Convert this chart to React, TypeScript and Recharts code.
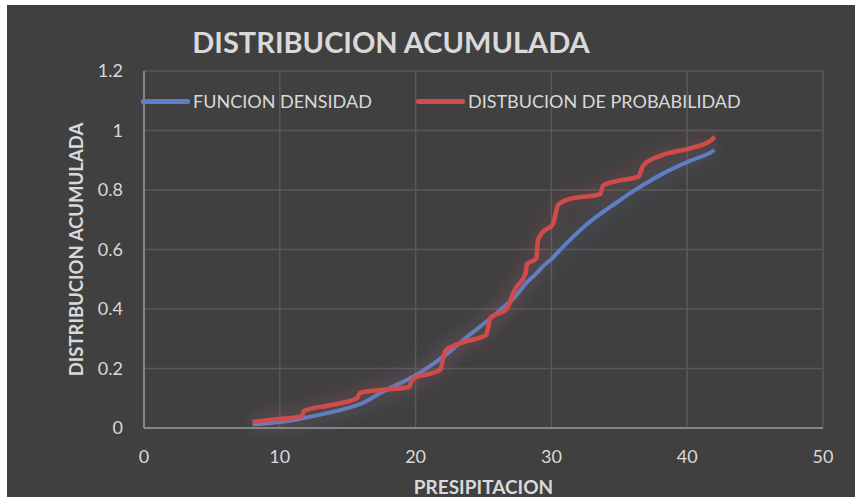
import React from "react";
import {
  LineChart,
  Line,
  XAxis,
  YAxis,
  CartesianGrid,
} from "recharts";

// precipitation values (x) and the two cumulative curves
const precipitacion = [
  8.0, 10.0, 11.6, 11.8, 13.5, 15.7, 15.9, 17.5, 19.5, 19.8, 21.8, 22.2, 23.5,
  25.2, 25.5, 26.7, 27.3, 28.1, 28.2, 28.9, 29.0, 29.3, 30.1, 30.5, 31.2, 33.6,
  33.8, 34.8, 36.4, 36.8, 38.2, 40.2, 41.8, 42.0,
];
const funcionDensidad = [
  0.012, 0.02, 0.032, 0.034, 0.05, 0.077, 0.08, 0.12, 0.165, 0.172, 0.232,
  0.245, 0.295, 0.357, 0.368, 0.415, 0.44, 0.485, 0.49, 0.52, 0.525, 0.54,
  0.572, 0.592, 0.625, 0.72, 0.726, 0.758, 0.807, 0.818, 0.855, 0.898, 0.928,
  0.934,
];
const distProbabilidad = [
  0.02, 0.03, 0.04, 0.058, 0.075, 0.1, 0.118, 0.128, 0.138, 0.165, 0.195,
  0.26, 0.288, 0.313, 0.37, 0.4, 0.465, 0.52, 0.55, 0.57, 0.63, 0.655, 0.685,
  0.75, 0.768, 0.786, 0.815, 0.83, 0.845, 0.885, 0.918, 0.94, 0.968, 0.98,
];
const xTicks = [0, 10, 20, 30, 40, 50];
const yTicks = [0, 0.2, 0.4, 0.6, 0.8, 1, 1.2];

const data = precipitacion.map((x, i) => ({
  x,
  densidad: funcionDensidad[i],
  probabilidad: distProbabilidad[i],
}));

const FONT = "Lato, 'Open Sans', sans-serif";
const TEXT = "#d9d9d9";
const BLUE = "#5b80c6";
const RED = "#d24c4c";

export default function App() {
  return (
    <div
      style={{
        position: "absolute",
        left: 0,
        top: 0,
        width: 855,
        height: 497,
        background: "#ffffff",
        fontFamily: FONT,
      }}
    >
      <div
        style={{
          position: "absolute",
          left: 7,
          top: 5,
          width: 848,
          height: 492,
          background: "#404040",
        }}
      >
        <LineChart
          width={848}
          height={492}
          data={data}
          margin={{ top: 66, right: 32, bottom: 0, left: 0 }}
        >
          <defs>
            <filter
              id="glow"
              filterUnits="userSpaceOnUse"
              x="0"
              y="0"
              width="848"
              height="492"
            >
              <feGaussianBlur in="SourceGraphic" stdDeviation="10" result="blur" />
              <feComponentTransfer in="blur" result="faint">
                <feFuncA type="linear" slope="0.55" />
              </feComponentTransfer>
              <feMerge>
                <feMergeNode in="faint" />
                <feMergeNode in="SourceGraphic" />
              </feMerge>
            </filter>
          </defs>
          <CartesianGrid stroke="#595959" strokeWidth={1.5} />
          <XAxis
            dataKey="x"
            type="number"
            domain={[0, 50]}
            ticks={xTicks}
            height={69}
            tickSize={0}
            tickMargin={22}
            tickLine={false}
            axisLine={{ stroke: "#858585", strokeWidth: 2 }}
            tick={{ fill: TEXT, fontSize: 18, fontFamily: FONT }}
            label={{
              value: "PRESIPITACION",
              position: "insideBottom",
              offset: 3,
              fill: TEXT,
              fontSize: 19,
              fontWeight: 700,
              fontFamily: FONT,
            }}
          />
          <YAxis
            type="number"
            domain={[0, 1.2]}
            ticks={yTicks}
            width={137}
            tickSize={0}
            tickMargin={21}
            tickLine={false}
            axisLine={{ stroke: "#858585", strokeWidth: 2 }}
            tick={{ fill: TEXT, fontSize: 18, fontFamily: FONT }}
            label={{
              value: "DISTRIBUCION ACUMULADA",
              angle: -90,
              position: "center",
              dx: 1,
              fill: TEXT,
              fontSize: 18.5,
              fontWeight: 700,
              fontFamily: FONT,
            }}
          />
          <Line
            type="monotone"
            dataKey="densidad"
            stroke={BLUE}
            strokeWidth={4}
            dot={false}
            filter="url(#glow)"
            isAnimationActive={false}
          />
          <Line
            type="monotone"
            dataKey="probabilidad"
            stroke={RED}
            strokeWidth={4.5}
            dot={false}
            filter="url(#glow)"
            isAnimationActive={false}
          />
        </LineChart>
      </div>

      <div
        style={{
          position: "absolute",
          left: 0,
          width: 782,
          top: 24,
          textAlign: "center",
          color: TEXT,
          fontSize: 29,
          fontWeight: 700,
        }}
      >
        DISTRIBUCION ACUMULADA
      </div>

      {[
        { name: "FUNCION DENSIDAD", color: BLUE, left: 141 },
        { name: "DISTBUCION DE PROBABILIDAD", color: RED, left: 416 },
      ].map((item) => (
        <div
          key={item.name}
          style={{
            position: "absolute",
            left: item.left,
            top: 90,
            display: "flex",
            alignItems: "center",
            color: TEXT,
            fontSize: 18,
            whiteSpace: "nowrap",
          }}
        >
          <span
            style={{
              display: "inline-block",
              width: 49,
              height: 5,
              borderRadius: 2,
              background: item.color,
              marginRight: 3,
            }}
          />
          {item.name}
        </div>
      ))}
    </div>
  );
}
